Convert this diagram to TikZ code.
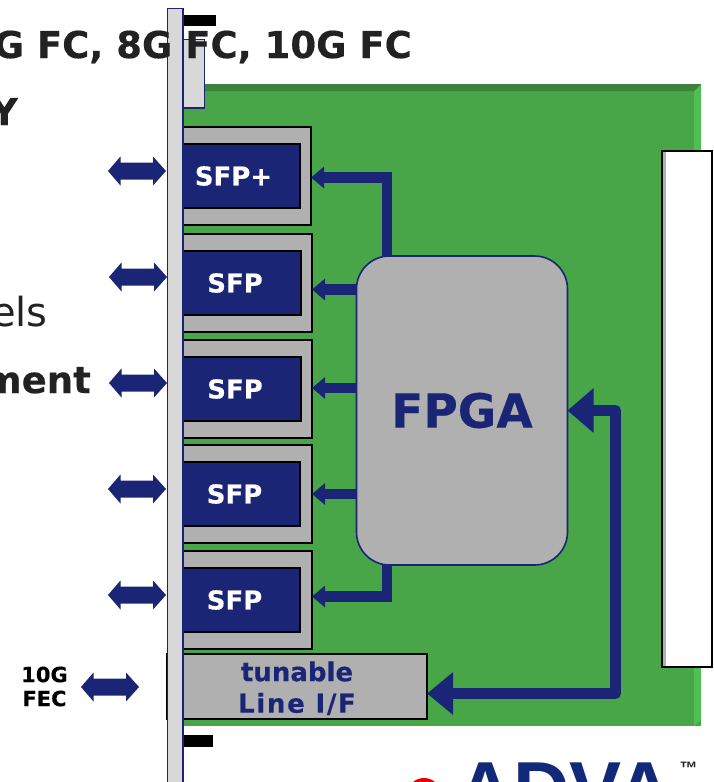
\documentclass[tikz,border=0pt]{standalone}
\usepackage{fontspec}
\setmainfont{DejaVu Sans}
\newfontfamily\logofont{Liberation Sans}
\usetikzlibrary{arrows.meta}
\definecolor{navy}{RGB}{26,37,117}
\definecolor{board}{RGB}{72,166,72}
\definecolor{boardd}{RGB}{60,130,60}
\definecolor{boardl}{RGB}{80,190,85}
\definecolor{midg}{RGB}{176,176,176}
\definecolor{lightg}{RGB}{216,216,216}
\definecolor{ink}{RGB}{34,34,34}
\definecolor{logoblue}{RGB}{18,40,120}
\newcommand{\heavy}{\bfseries\addfontfeature{FakeBold=0.35}}
\tikzset{
 panel/.style={draw=navy,fill=lightg,line width=1.5pt},
 cage/.style={draw=black,fill=midg,line width=2pt,anchor=north west,inner sep=0pt,outer sep=0pt},
 sfpbox/.style={draw=black,fill=navy,line width=2pt,text=white,font=\fontsize{26}{26}\selectfont\heavy,inner sep=0pt,outer sep=0pt,anchor=north west,minimum height=64pt},
 busthin/.style={draw=navy,line width=10.5pt,line join=miter,-{Triangle[length=13pt,width=21pt]}},
 busbig/.style={draw=navy,line width=11pt,line join=round,{Triangle[length=26pt,width=43pt]}-{Triangle[length=26pt,width=41pt]}},
 big/.style={font=\fontsize{37}{37}\selectfont\heavy,text=ink,inner sep=0pt,anchor=base east},
 linetext/.style={text=navy,font=\fontsize{26}{26}\selectfont\heavy,inner sep=0pt},
}
\newcommand{\dblarrow}[2]{% left tip x, y
 \fill[navy] (#1,#2) -- (#1+12.5,#2-14.5) -- (#1+12.5,#2-8.5) -- (#1+45,#2-8.5) -- (#1+45,#2-14.5) -- (#1+58,#2) -- (#1+45,#2+14.5) -- (#1+45,#2+8.5) -- (#1+12.5,#2+8.5) -- (#1+12.5,#2+14.5) -- cycle;}
\begin{document}
\begin{tikzpicture}[x=1pt,y=-1pt]
\useasboundingbox (0,0) rectangle (713,782);
\begin{scope}
\clip (0,0) rectangle (713,782);
% board
\fill[board] (183,84) rectangle (701,726);
\fill[boardl] (694,91) -- (701,84) -- (701,720) -- (694,726) -- cycle;
\fill[boardd] (183,84) -- (701,84) -- (694,91) -- (183,91) -- cycle;
% bracket parts
\fill[black] (183,15) rectangle (216,26);
\fill[black] (183,735) rectangle (213,747);
\draw[panel] (183,39.5) rectangle (204.5,108);
% right connector
\draw[black,fill=white,line width=2.2pt] (662,151) rectangle (712,667);
\fill[midg] (663.2,152.2) rectangle (665.5,665.8);
% cages
\node[cage,minimum width=136pt,minimum height=98pt] (c1) at (175,127) {};
\node[cage,minimum width=137pt,minimum height=98pt] (c2) at (175,234) {};
\node[cage,minimum width=137pt,minimum height=98pt] (c3) at (175,340) {};
\node[cage,minimum width=137pt,minimum height=98pt] (c4) at (175,445) {};
\node[cage,minimum width=137pt,minimum height=98pt] (c5) at (175,551) {};
\node[cage,minimum width=260pt,minimum height=65pt] (lif) at (167,654) {};
% sfp
\node[sfpbox,minimum width=125pt] (s1) at (175,144) {SFP+\hspace*{8pt}};
\node[sfpbox,minimum width=126pt] (s2) at (175,251) {SFP\hspace*{6pt}};
\node[sfpbox,minimum width=126pt] (s3) at (175,357) {SFP\hspace*{6pt}};
\node[sfpbox,minimum width=125pt] (s4) at (175,462) {SFP\hspace*{6pt}};
\node[sfpbox,minimum width=125pt] (s5) at (175,568) {SFP\hspace*{6pt}};
% panel
\draw[panel] (167.5,8.5) rectangle (183,790);
% line if
\node[linetext] (li1) at (297,671.5) {tunable};
\node[linetext] (li2) at (297,704) {\addfontfeature{LetterSpace=6.5}Line I/F};
% fpga
\node[draw=navy,fill=midg,line width=1.6pt,rounded corners=33pt,minimum width=211pt,minimum height=309pt,anchor=north west,inner sep=0pt,outer sep=0pt,text=navy,font=\fontsize{47}{47}\selectfont\heavy] (fpga) at (356.5,256) {FPGA};
% connectors
\draw[busthin] (387,0 |- fpga.north) -- (387,177.5) -- (c1.east |- 0,177.5);
\draw[busthin] (fpga.west |- 0,289.5) -- (c2.east |- 0,289.5);
\draw[busthin] (fpga.west |- 0,388) -- (c3.east |- 0,388);
\draw[busthin] (fpga.west |- 0,494) -- (c4.east |- 0,494);
\draw[busthin] (387,0 |- fpga.south) -- (387,596.5) -- (c5.east |- 0,596.5);
\draw[busbig] (fpga.east |- 0,410.5) -- (615.5,410.5) -- (615.5,693.5) -- (lif.east |- 0,693.5);
% double arrows
\dblarrow{108}{171}
\dblarrow{109}{277}
\dblarrow{109}{383}
\dblarrow{108}{489}
\dblarrow{108}{595}
\dblarrow{81}{687}
% text
\node[big] (t1) at (412,58) {G FC, 8G FC, 10G FC};
\node[big] (t2) at (18,125) {Y};
\node[text=ink,inner sep=0pt,anchor=base east,font=\fontsize{40}{40}\selectfont] (t3) at (48,326) {els};
\node[big] (t4) at (91,393) {ment};
\node[align=center,text=black,font=\fontsize{21}{24}\selectfont\heavy,inner sep=0pt] (fec) at (44.5,686.5) {10G\\FEC};
% logo
\fill[red!92!black] (424,795) circle (17);
\node[text=logoblue,font=\logofont\bfseries\fontsize{78}{78}\selectfont,inner sep=0pt,anchor=base west] (adva) at (457,816) {ADVA};
\node[text=ink,font=\logofont\bfseries\fontsize{18}{18}\selectfont,inner sep=0pt,anchor=base west] (tm) at (679.5,774) {™};
\end{scope}
\end{tikzpicture}
\end{document}
